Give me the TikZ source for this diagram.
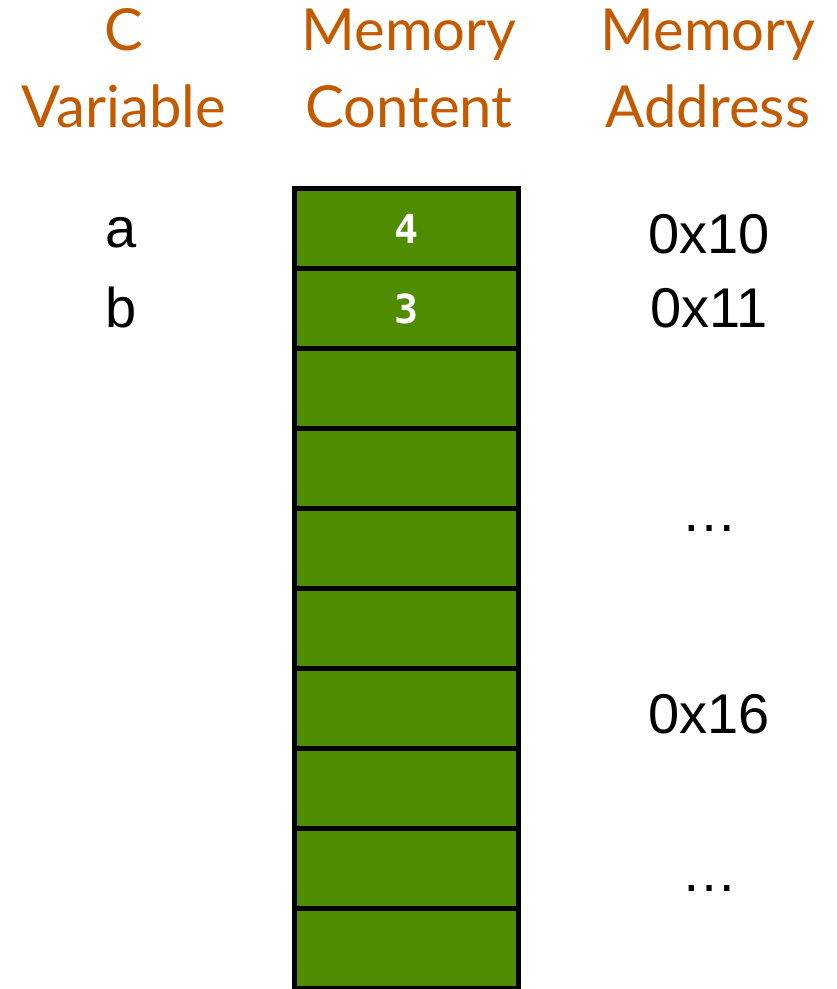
\documentclass[tikz,border=0pt]{standalone}
\usepackage{fontspec}
\setmainfont{Liberation Sans}
\newfontfamily\headfont{Lato}
\newfontfamily\cellfont{DejaVu Sans Mono}
\usepackage{tikz}
\usetikzlibrary{positioning}
\definecolor{memgreen}{RGB}{79,140,0}
\definecolor{headcolor}{RGB}{196,90,0}
\tikzset{
  memcell/.style={draw=black, fill=memgreen, line width=5pt, minimum width=224pt,
    minimum height=80pt, inner sep=0pt},
  cellval/.style={text=white, font=\cellfont\bfseries\fontsize{40}{40}\selectfont},
  header/.style={headcolor, align=center, anchor=base,
    font=\headfont\fontsize{58}{77}\selectfont},
  lbl/.style={anchor=base, font=\fontsize{56}{56}\selectfont},
}

\begin{document}
\begin{tikzpicture}[x=1pt, y=-1pt]
    \useasboundingbox (0,0) rectangle (837,989);
    % column headers
    \node[header] (hvar) at (124,127) {C\\Variable};
    \node[header] (hcont) at (409,127) {Memory\\Content};
    \node[header] (haddr) at (708,127) {Memory\\Address};
    % the memory cells
    \foreach \i in {1,...,10}
      \node[memcell] (m\i) at (406.5,148.5+80*\i) {};
    \node[cellval] (v1) at (m1) {4};
    \node[cellval] (v2) at (m2) {3};
    % variables
    \node[lbl] (va) at (121,247) {a};
    \node[lbl] (vb) at (121,327) {b};
    % addresses
    \node[lbl] (ad1) at (709,253) {0x10};
    \node[lbl] (ad2) at (709,327) {0x11};
    \node[lbl] (ad3) at (709,531) {…};
    \node[lbl] (ad4) at (709,733) {0x16};
    \node[lbl] (ad5) at (709,891) {…};
  \end{tikzpicture}
\end{document}
